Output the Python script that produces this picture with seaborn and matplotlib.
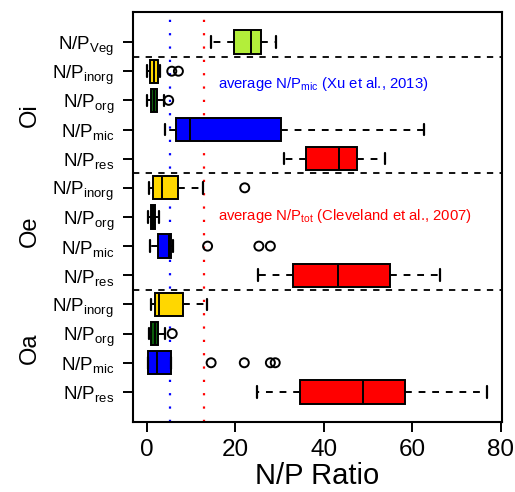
import numpy as np
import pandas as pd
import matplotlib
matplotlib.use("Agg")
import matplotlib.pyplot as plt
import matplotlib.transforms as mtransforms
import seaborn as sns

# rows from top to bottom (vegetation, then Oi / Oe / Oa horizons)
rows = ["Veg",
        "Oi_inorg", "Oi_org", "Oi_mic", "Oi_res",
        "Oe_inorg", "Oe_org", "Oe_mic", "Oe_res",
        "Oa_inorg", "Oa_org", "Oa_mic", "Oa_res"]
row_labels = ["N/P$_{\\mathrm{Veg}}$"] + [
    "N/P$_{\\mathrm{inorg}}$", "N/P$_{\\mathrm{org}}$",
    "N/P$_{\\mathrm{mic}}$", "N/P$_{\\mathrm{res}}$"] * 3

# five-number summaries
whisk_lo = [14.4, 0.1, 0.0, 4.0, 31.0, 0.4, 0.3, 0.6, 25.2, 0.8, 0.4, 0.2, 24.9]
q1 = [19.7, 0.6, 0.8, 6.6, 35.9, 1.3, 0.8, 2.5, 33.1, 1.9, 1.0, 0.3, 34.5]
med = [23.5, 1.5, 1.5, 9.7, 43.4, 3.4, 1.3, 4.9, 43.2, 2.8, 1.8, 2.3, 48.9]
q3 = [25.8, 2.4, 2.3, 30.4, 47.4, 6.95, 1.8, 5.5, 55.0, 8.2, 2.5, 5.5, 58.4]
whisk_hi = [29.2, 3.0, 3.8, 62.6, 53.8, 12.7, 2.7, 5.8, 66.3, 13.6, 4.0, 5.5, 77.0]

# outliers
out_rows = ["Oi_inorg", "Oi_inorg", "Oi_org", "Oe_inorg", "Oe_mic", "Oe_mic", "Oe_mic",
            "Oa_org", "Oa_mic", "Oa_mic", "Oa_mic", "Oa_mic"]
out_vals = [5.6, 7.1, 4.9, 22.1, 13.7, 25.3, 27.9, 5.7, 14.5, 22.0, 27.9, 29.0]

colors = ["#B3EE3A"] + ["#FFD700", "#0B5E0B", "#0000FF", "#FF0000"] * 3

groups = ["Oi", "Oe", "Oa"]
group_centers = [2.5, 6.5, 10.5]
separators = [0.5, 4.5, 8.5]

avg_mic = 5.1   # Xu et al., 2013
avg_tot = 13.0  # Cleveland et al., 2007

# long table: each box built from its five summary values
recs = []
for i, r in enumerate(rows):
    for v in (whisk_lo[i], q1[i], med[i], q3[i], whisk_hi[i]):
        recs.append({"row": r, "ratio": v})
df = pd.DataFrame(recs)

sns.set_style("ticks")
plt.rcParams["font.family"] = ["Liberation Sans", "DejaVu Sans"]
plt.rcParams["mathtext.fontset"] = "custom"
plt.rcParams["mathtext.rm"] = "Liberation Sans"
plt.rcParams["mathtext.it"] = "Liberation Sans:italic"
for k in ["text.color", "axes.labelcolor", "xtick.color", "ytick.color", "axes.edgecolor"]:
    plt.rcParams[k] = "black"

fig = plt.figure(figsize=(5.15, 4.92), dpi=100)
ax = fig.add_axes([0.258, 0.143, 0.716, 0.832])

ax.axvline(avg_mic, color="blue", linestyle=(0, (1, 5)), lw=1.6, zorder=0)
ax.axvline(avg_tot, color="red", linestyle=(0, (1, 5)), lw=1.6, zorder=0)

sns.boxplot(data=df, x="ratio", y="row", order=rows, hue="row",
            palette=dict(zip(rows, colors)), legend=False, saturation=1,
            whis=(0, 100), width=0.8, linecolor="black", linewidth=1.4,
            fliersize=0, ax=ax,
            whiskerprops=dict(linestyle=(0, (3.5, 3.5))),
            capprops=dict(linewidth=1.6))

pos = [rows.index(r) for r in out_rows]
sns.scatterplot(x=out_vals, y=pos, marker="o", s=42, facecolor="none",
                edgecolor="black", linewidth=1.4, ax=ax, zorder=5)

for s in separators:
    ax.axhline(s, color="black", linestyle=(0, (3.5, 3.5)), lw=1.3)

ax.set_xlim(-3.2, 80.2)
ax.set_ylim(12 + 1.02, -1.02)
ax.set_xticks([0, 20, 40, 60, 80])
ax.set_yticks(range(len(rows)))
ax.set_yticklabels(row_labels, fontsize=13.5)
ax.tick_params(axis="x", labelsize=17.5, length=7.5, width=1.4, pad=5)
ax.tick_params(axis="y", length=7.5, width=1.4, pad=6)
ax.set_xlabel("N/P Ratio", fontsize=21, labelpad=1)
ax.set_ylabel("")
for sp in ax.spines.values():
    sp.set_visible(True)
    sp.set_linewidth(1.5)

trans = mtransforms.blended_transform_factory(ax.transAxes, ax.transData)
for g, c in zip(groups, group_centers):
    ax.text(-0.28, c, g, transform=trans, rotation=90, fontsize=17,
            ha="center", va="center")

ax.text(16.0, 1.45, "average N/P$_{\\mathrm{mic}}$ (Xu et al., 2013)",
        color="blue", fontsize=10.7, va="center", ha="left")
ax.text(16.0, 5.95, "average N/P$_{\\mathrm{tot}}$ (Cleveland et al., 2007)",
        color="red", fontsize=10.7, va="center", ha="left")

fig.savefig("out.png", dpi=100)
